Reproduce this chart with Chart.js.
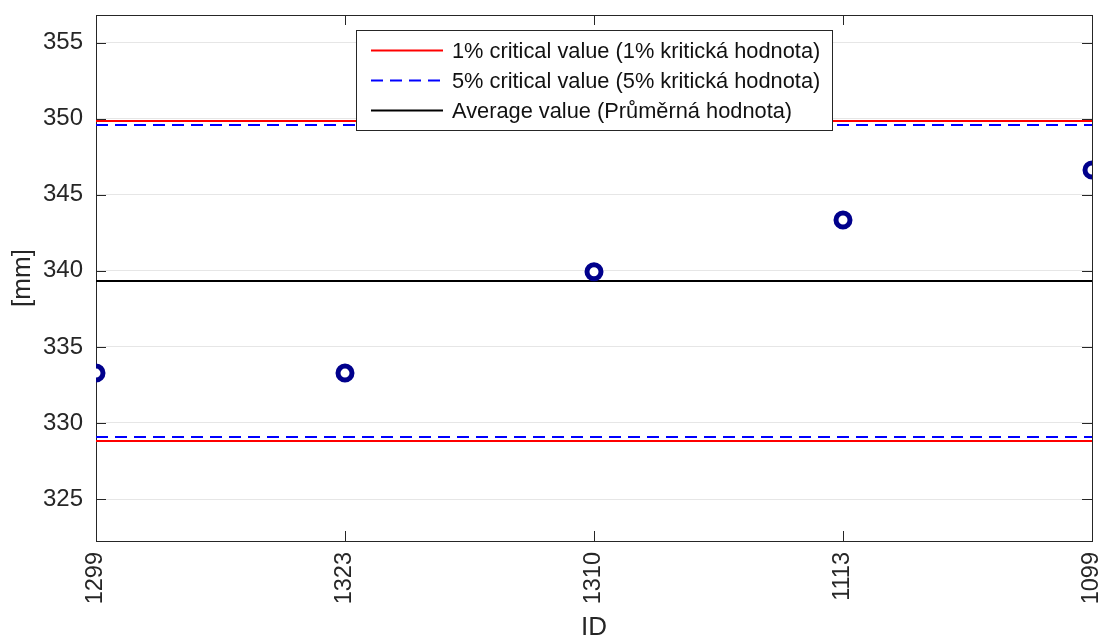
<!DOCTYPE html>
<html>
<head>
<meta charset="utf-8">
<script src="https://cdn.jsdelivr.net/npm/chart.js@4/dist/chart.umd.min.js"></script>
<style>
  html, body { margin: 0; padding: 0; background: #ffffff; }
  #wrap { width: 1106px; height: 638px; position: relative; }
</style>
</head>
<body>
<div id="wrap"><canvas id="c"></canvas></div>
<script>
// Measured specimens (ID) and their values in mm
const ids = ['1299', '1323', '1310', '1113', '1099'];
const measured = [333.28, 333.28, 339.94, 343.34, 346.63];

// Reference levels
const averageValue = 339.33;
const crit1 = [328.81, 349.85];   // 1% critical value: lower, upper
const crit5 = [329.08, 349.59];   // 5% critical value: lower, upper

// Axis ticks and range
const yTicks = [325, 330, 335, 340, 345, 350, 355];
const yRange = [322.24, 356.82];

const TEXT = '#262626';
const FONT = '"Liberation Sans", Arial, Helvetica, sans-serif';

const xIdx = ids.map((_, i) => i);
const xMax = ids.length - 1;
const hline = v => [{x: 0, y: v}, {x: xMax, y: v}];

const lineDefaults = {type: 'line', showLine: true, pointRadius: 0, pointHoverRadius: 0, borderWidth: 2, fill: false, order: 2};

const datasets = [
  Object.assign({}, lineDefaults, {label: '1% critical value (1% kritická hodnota)', data: hline(crit1[1]), borderColor: '#ff0000', inLegend: true}),
  Object.assign({}, lineDefaults, {label: '1% critical value (1% kritická hodnota)', data: hline(crit1[0]), borderColor: '#ff0000'}),
  Object.assign({}, lineDefaults, {label: '5% critical value (5% kritická hodnota)', data: hline(crit5[1]), borderColor: '#0000ff', borderDash: [12, 7], inLegend: true, order: 1}),
  Object.assign({}, lineDefaults, {label: '5% critical value (5% kritická hodnota)', data: hline(crit5[0]), borderColor: '#0000ff', borderDash: [12, 7], order: 1}),
  Object.assign({}, lineDefaults, {label: 'Average value (Průměrná hodnota)', data: hline(averageValue), borderColor: '#000000', inLegend: true}),
  {
    type: 'scatter', label: 'ID', order: 0,
    data: xIdx.map(i => ({x: i, y: measured[i]})),
    pointRadius: 7, pointHoverRadius: 7, pointBorderWidth: 5,
    pointBorderColor: '#00008c', pointBackgroundColor: '#ffffff', showLine: false
  }
];

// Box frame with inward tick marks on all four sides
const framePlugin = {
  id: 'frame',
  beforeDatasetsDraw(chart) {
    const {ctx, chartArea: a, scales} = chart;
    ctx.save();
    ctx.strokeStyle = TEXT;
    ctx.lineWidth = 1;
    const tl = 10;
    ctx.beginPath();
    scales.y.ticks.forEach(t => {
      const y = Math.round(scales.y.getPixelForValue(t.value)) + 0.5;
      ctx.moveTo(a.left, y); ctx.lineTo(a.left + tl, y);
      ctx.moveTo(a.right, y); ctx.lineTo(a.right - tl, y);
    });
    scales.x.ticks.forEach(t => {
      const x = Math.round(scales.x.getPixelForValue(t.value)) + 0.5;
      ctx.moveTo(x, a.top); ctx.lineTo(x, a.top + tl);
      ctx.moveTo(x, a.bottom); ctx.lineTo(x, a.bottom - tl);
    });
    ctx.stroke();
    ctx.strokeRect(Math.round(a.left) + 0.5, Math.round(a.top) + 0.5,
                   Math.round(a.right - a.left), Math.round(a.bottom - a.top));
    ctx.restore();
  }
};

// Legend box drawn inside the plot area
const boxLegend = {
  id: 'boxLegend',
  afterDatasetsDraw(chart) {
    const {ctx} = chart;
    const items = chart.data.datasets.filter(d => d.inLegend);
    const box = {x: 356, y: 30, w: 476, h: 100};
    const rowH = 30, firstRow = 50.5;
    ctx.save();
    ctx.fillStyle = '#ffffff';
    ctx.fillRect(box.x, box.y, box.w, box.h);
    ctx.strokeStyle = TEXT;
    ctx.lineWidth = 1;
    ctx.strokeRect(box.x + 0.5, box.y + 0.5, box.w, box.h);
    ctx.font = '21.8px ' + FONT;
    ctx.textBaseline = 'middle';
    ctx.textAlign = 'left';
    items.forEach((d, i) => {
      const y = firstRow + i * rowH;
      ctx.beginPath();
      ctx.strokeStyle = d.borderColor;
      ctx.lineWidth = d.borderWidth;
      ctx.setLineDash(d.borderDash || []);
      ctx.moveTo(371, y); ctx.lineTo(443, y);
      ctx.stroke();
      ctx.setLineDash([]);
      ctx.fillStyle = '#111111';
      ctx.fillText(d.label, 452, y + 1);
    });
    ctx.restore();
  }
};

const noEdgePadding = s => { s.paddingTop = 0; s.paddingBottom = 0; s.paddingLeft = 0; s.paddingRight = 0; };

new Chart(document.getElementById('c'), {
  type: 'scatter',
  data: {datasets},
  plugins: [framePlugin, boxLegend],
  options: {
    responsive: true,
    maintainAspectRatio: false,
    animation: false,
    events: [],
    layout: {padding: {top: 15, right: 14, left: 0, bottom: 0}},
    plugins: {legend: {display: false}, tooltip: {enabled: false}},
    scales: {
      x: {
        type: 'linear', min: 0, max: xMax,
        afterBuildTicks: s => { s.ticks = xIdx.map(v => ({value: v})); },
        afterFit: s => { s.height = 97; noEdgePadding(s); },
        grid: {display: false, drawTicks: false},
        border: {display: false},
        ticks: {
          autoSkip: false, minRotation: 90, maxRotation: 90, padding: 11,
          color: TEXT, font: {family: FONT, size: 23.5},
          callback: v => ids[v]
        },
        title: {display: true, text: 'ID', color: TEXT, font: {family: FONT, size: 26, lineHeight: 0.8}, padding: 0}
      },
      y: {
        type: 'linear', min: yRange[0], max: yRange[1],
        afterBuildTicks: s => { s.ticks = yTicks.map(v => ({value: v})); },
        afterFit: s => { s.width = 96; noEdgePadding(s); },
        grid: {display: true, color: '#e6e6e6', lineWidth: 1, drawTicks: false},
        border: {display: false},
        ticks: {padding: 13, color: TEXT, font: {family: FONT, size: 24}},
        title: {display: true, text: '[mm]', color: TEXT, font: {family: FONT, size: 26, lineHeight: 1.2}, padding: {top: 7, bottom: 0}}
      }
    }
  }
});
</script>
</body>
</html>
